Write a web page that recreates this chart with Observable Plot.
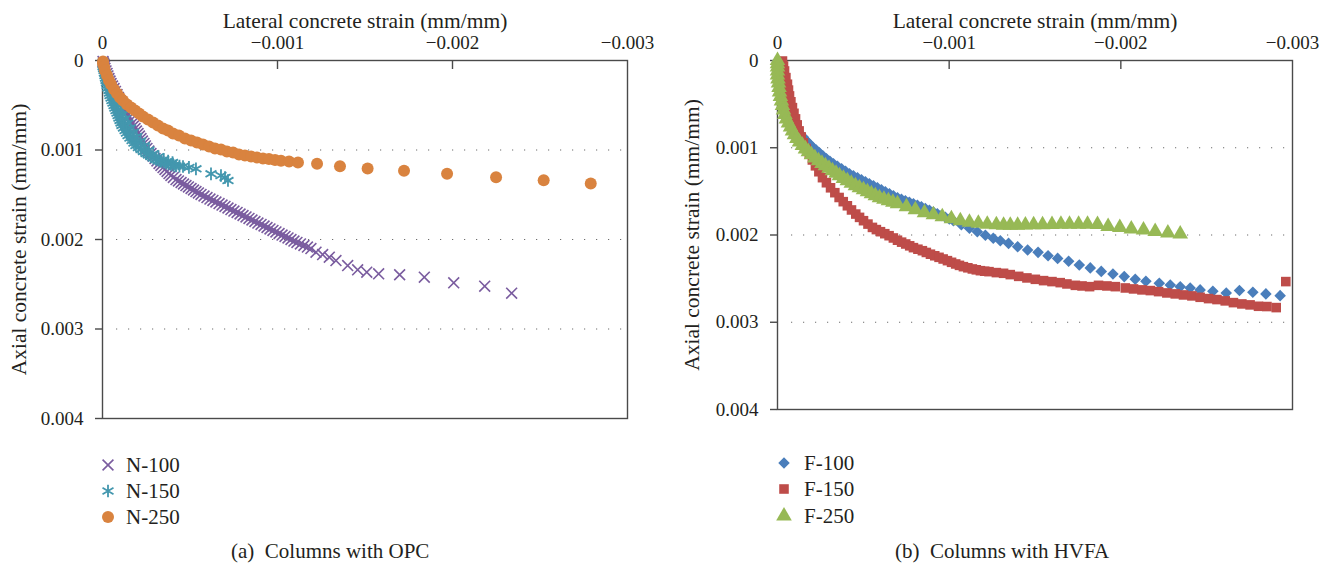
<!DOCTYPE html>
<html>
<head>
<meta charset="utf-8">
<script src="https://cdn.jsdelivr.net/npm/d3@7"></script>
<script src="https://cdn.jsdelivr.net/npm/@observablehq/plot@0.6"></script>
<style>
  html, body { margin: 0; padding: 0; background: #fff; }
  #wrap { position: relative; width: 1342px; height: 569px; font-family: 'Liberation Serif', 'Times New Roman', serif; color: #231f20; }
  .panel { position: absolute; top: 0; width: 671px; height: 569px; }
  .panel svg.plot { position: absolute; left: 0; top: 0; }
  .legend { position: absolute; left: 0; top: 0; font-size: 21px; }
  .row { position: absolute; height: 26px; white-space: nowrap; }
  .row svg { position: absolute; left: 0; top: 3px; width: 20px; height: 20px; overflow: visible; }
  .row span { position: absolute; top: 0; line-height: 26px; }
  .caption { position: absolute; top: 538px; text-align: left; font-size: 21px; white-space: pre; line-height: 26px; }
</style>
</head>
<body>
<div id="wrap"></div>
<script>
// ---------- data (strain values in microstrain; lateral negative, axial positive) ----------
const xTitle = "Lateral concrete strain (mm/mm)";
const yTitle = "Axial concrete strain (mm/mm)";
const xTicks = [0, -0.001, -0.002, -0.003];
const yTicks = [0, 0.001, 0.002, 0.003, 0.004];
const captions = ["(a)  Columns with OPC", "(b)  Columns with HVFA"];
const namesOPC = ["N-100", "N-150", "N-250"];
const namesHVFA = ["F-100", "F-150", "F-250"];

const n100 = [[-3,11],[-6,28],[-9,45],[-11,67],[-14,89],[-20,117],[-26,145],[-31,173],[-37,201],[-43,229],[-49,257],[-57,285],[-66,313],[-74,346],[-83,380],[-91,413],[-100,447],[-108,480],[-117,514],[-125,547],[-134,581],[-142,609],[-151,637],[-160,670],[-169,704],[-177,732],[-186,760],[-194,788],[-203,816],[-211,844],[-220,872],[-228,900],[-237,927],[-245,955],[-254,983],[-265,1011],[-277,1039],[-288,1067],[-300,1095],[-311,1123],[-323,1151],[-334,1173],[-346,1196],[-357,1218],[-369,1240],[-380,1263],[-391,1285],[-405,1307],[-420,1330],[-434,1346],[-449,1363],[-463,1380],[-477,1397],[-491,1413],[-506,1430],[-520,1447],[-534,1464],[-548,1480],[-563,1497],[-580,1514],[-597,1531],[-614,1548],[-631,1564],[-648,1581],[-666,1598],[-683,1615],[-700,1631],[-717,1648],[-734,1665],[-751,1682],[-769,1698],[-786,1715],[-803,1732],[-820,1748],[-837,1765],[-854,1782],[-871,1799],[-888,1816],[-906,1832],[-923,1849],[-940,1866],[-957,1882],[-974,1899],[-991,1916],[-1009,1933],[-1026,1950],[-1043,1966],[-1060,1983],[-1077,2000],[-1094,2017],[-1111,2033],[-1131,2050],[-1151,2067],[-1171,2084],[-1191,2101],[-1220,2142],[-1258,2168],[-1296,2198],[-1334,2235],[-1401,2291],[-1458,2339],[-1510,2365],[-1578,2383],[-1698,2394],[-1839,2421],[-2007,2484],[-2184,2522],[-2338,2600]];

const n150 = [[-3,22],[-3,45],[-3,67],[-6,90],[-9,112],[-11,140],[-14,168],[-17,196],[-20,223],[-23,251],[-26,279],[-31,307],[-37,335],[-40,363],[-43,391],[-49,419],[-54,447],[-60,475],[-66,503],[-71,531],[-77,559],[-83,587],[-89,615],[-94,643],[-100,670],[-106,698],[-111,726],[-120,754],[-129,782],[-137,810],[-146,838],[-157,866],[-169,894],[-180,922],[-191,950],[-205,972],[-220,994],[-234,1017],[-249,1039],[-263,1056],[-277,1073],[-291,1090],[-306,1106],[-320,1117],[-334,1128],[-349,1137],[-363,1145],[-377,1154],[-391,1162],[-406,1171],[-420,1179],[-440,1181],[-460,1184],[-494,1195],[-534,1210],[-620,1266],[-677,1285],[-700,1307],[-717,1341]];
// second, outer band of N-150 readings visible in the dense region
const n150b = [[-20,150],[-30,200],[-40,250],[-50,300],[-60,350],[-70,400],[-80,450],[-92,500],[-105,550],[-117,600],[-130,650],[-145,700],[-160,750],[-177,800],[-195,850],[-217,900],[-240,950],[-265,1000],[-290,1040],[-320,1075],[-350,1105],[-375,1125],[-400,1140]];

const n250 = [[-3,11],[-3,34],[-9,67],[-14,112],[-26,168],[-37,223],[-49,268],[-66,324],[-83,369],[-100,413],[-117,447],[-140,492],[-163,525],[-186,559],[-209,592],[-231,626],[-260,659],[-289,693],[-317,726],[-346,760],[-374,782],[-403,816],[-437,838],[-471,872],[-506,894],[-540,916],[-574,939],[-609,961],[-643,983],[-677,994],[-711,1017],[-746,1028],[-780,1050],[-814,1061],[-849,1073],[-883,1084],[-917,1095],[-951,1101],[-986,1112],[-1020,1121],[-1066,1128],[-1117,1140],[-1226,1154],[-1357,1181],[-1515,1207],[-1723,1232],[-1969,1266],[-2249,1304],[-2521,1337],[-2790,1374]];

const f100 = [[0,6],[0,40],[0,74],[-3,120],[-6,166],[-9,212],[-12,257],[-17,309],[-23,360],[-29,412],[-35,463],[-43,515],[-52,566],[-63,618],[-76,669],[-90,715],[-105,761],[-119,801],[-134,841],[-151,881],[-169,921],[-186,956],[-204,990],[-224,1024],[-244,1058],[-264,1093],[-285,1127],[-305,1156],[-326,1184],[-349,1213],[-373,1241],[-396,1270],[-419,1299],[-442,1322],[-466,1344],[-489,1367],[-512,1390],[-535,1413],[-559,1436],[-582,1459],[-605,1482],[-628,1505],[-652,1528],[-675,1551],[-699,1573],[-722,1591],[-745,1608],[-768,1625],[-792,1642],[-815,1659],[-838,1676],[-861,1696],[-885,1716],[-908,1736],[-931,1756],[-954,1776],[-978,1796],[-1001,1817],[-1025,1837],[-1071,1882],[-1118,1922],[-1164,1962],[-1211,2002],[-1257,2037],[-1298,2065],[-1346,2096],[-1399,2134],[-1457,2172],[-1518,2199],[-1576,2237],[-1632,2268],[-1696,2302],[-1758,2343],[-1822,2377],[-1886,2417],[-1954,2446],[-2020,2477],[-2084,2508],[-2146,2531],[-2224,2554],[-2288,2572],[-2346,2592],[-2404,2607],[-2462,2629],[-2536,2645],[-2614,2664],[-2691,2637],[-2769,2657],[-2845,2675],[-2928,2695]];

const f150 = [[-29,6],[-35,63],[-41,120],[-49,196],[-58,272],[-64,339],[-70,406],[-78,473],[-87,540],[-96,605],[-105,669],[-115,738],[-126,807],[-138,876],[-151,944],[-167,1009],[-185,1073],[-203,1140],[-221,1207],[-241,1275],[-262,1343],[-285,1401],[-309,1459],[-334,1515],[-359,1570],[-383,1618],[-407,1665],[-431,1713],[-456,1760],[-478,1798],[-501,1836],[-527,1875],[-553,1913],[-576,1938],[-600,1962],[-625,1985],[-650,2008],[-675,2034],[-699,2060],[-723,2082],[-747,2103],[-770,2124],[-792,2145],[-818,2163],[-844,2180],[-867,2200],[-891,2220],[-916,2238],[-941,2256],[-965,2275],[-990,2294],[-1014,2313],[-1038,2332],[-1060,2348],[-1083,2363],[-1109,2376],[-1135,2389],[-1158,2399],[-1182,2409],[-1207,2415],[-1232,2420],[-1275,2431],[-1317,2439],[-1356,2454],[-1405,2474],[-1453,2492],[-1502,2508],[-1550,2523],[-1599,2534],[-1647,2546],[-1686,2561],[-1735,2577],[-1774,2584],[-1818,2592],[-1870,2577],[-1919,2584],[-1968,2592],[-2026,2607],[-2074,2618],[-2123,2629],[-2172,2637],[-2220,2649],[-2268,2664],[-2317,2675],[-2365,2687],[-2414,2698],[-2462,2714],[-2511,2729],[-2560,2740],[-2608,2755],[-2656,2775],[-2705,2790],[-2753,2801],[-2802,2817],[-2851,2820],[-2905,2832],[-2961,2534]];

const f250 = [[0,0],[0,37],[0,74],[0,120],[0,166],[-3,212],[-6,257],[-9,309],[-12,360],[-17,412],[-23,463],[-29,515],[-35,566],[-43,618],[-52,669],[-64,715],[-76,761],[-87,807],[-99,852],[-113,893],[-128,933],[-145,973],[-163,1013],[-180,1047],[-198,1081],[-218,1116],[-239,1150],[-259,1179],[-279,1207],[-300,1236],[-320,1264],[-341,1293],[-361,1322],[-384,1351],[-407,1379],[-430,1408],[-454,1436],[-477,1459],[-501,1482],[-524,1505],[-547,1528],[-570,1551],[-594,1573],[-620,1591],[-646,1608],[-672,1625],[-699,1642],[-751,1676],[-803,1711],[-856,1745],[-908,1768],[-960,1791],[-1013,1814],[-1065,1836],[-1118,1854],[-1170,1865],[-1222,1876],[-1275,1882],[-1317,1888],[-1356,1888],[-1399,1888],[-1444,1886],[-1492,1882],[-1544,1882],[-1599,1879],[-1651,1876],[-1701,1876],[-1754,1876],[-1806,1876],[-1864,1879],[-1926,1902],[-1994,1913],[-2061,1931],[-2132,1943],[-2200,1959],[-2274,1977],[-2346,1989]];

// ---------- styles ----------
const FONT = "'Liberation Serif', 'Times New Roman', serif";
const toRows = (arr) => arr.map(([lat, ax]) => ({lat: lat * 1e-6, ax: ax * 1e-6}));
const fmt = (d) => d === 0 ? "0" : d3.format(".3f")(d);

const opcSeries = [
  {name: namesOPC[0], data: [n100], symbol: "times", r: 5.0, stroke: "#7a5c9f", strokeWidth: 1.6},
  {name: namesOPC[1], data: [n150b, n150], symbol: "asterisk", r: 6.0, stroke: "#4397ae", strokeWidth: 1.8},
  {name: namesOPC[2], data: [n250], symbol: "circle", r: 6.0, fill: "#d9833f"}
];
const hvfaSeries = [
  {name: namesHVFA[0], data: [f100], symbol: "diamond2", r: 5.2, fill: "#4a7ebb"},
  {name: namesHVFA[1], data: [f150], symbol: "square", r: 5.4, fill: "#be4c49"},
  {name: namesHVFA[2], data: [f250], symbol: "triangle", r: 5.8, fill: "#97b955"}
];

function makePlot(series, m, titleDx) {
  const innerH = 432 - m.top - m.bottom;
  return Plot.plot({
    width: 671, height: 432,
    marginTop: m.top, marginBottom: m.bottom, marginLeft: m.left, marginRight: m.right,
    style: {fontFamily: FONT, fontSize: "19px", color: "#231f20", background: "transparent", overflow: "visible"},
    x: {domain: [0, -0.003]},
    y: {domain: [0, 0.004], reverse: true},
    marks: [
      Plot.ruleY(yTicks.slice(1, 4), {stroke: "#6d6d6d", strokeWidth: 1.2, strokeDasharray: "1.2,10.8", insetLeft: 14, insetRight: 4}),
      Plot.frame({stroke: "#4a4a4a", strokeWidth: 1.4}),
      Plot.tickX(xTicks.slice(1, 3), {x: (d) => d, stroke: "#4a4a4a", strokeWidth: 1.4, insetBottom: innerH - 9}),
      Plot.axisX(xTicks, {anchor: "top", tickSize: 0, tickPadding: 12, tickFormat: fmt, label: null, fontSize: 19}),
      Plot.axisY(yTicks, {anchor: "left", tickSize: 7, tickPadding: 12, tickFormat: fmt, label: null, stroke: "#4a4a4a", strokeWidth: 1.4, fontSize: 19}),
      Plot.text([xTitle], {frameAnchor: "top", dy: -48, fontSize: 21.5}),
      Plot.text([yTitle], {frameAnchor: "left", textAnchor: "middle", rotate: -90, dx: titleDx, fontSize: 21.5}),
      ...series.flatMap((s) => s.data.map((d) => Plot.dot(toRows(d), {
        x: "lat", y: "ax", symbol: s.symbol, r: s.r,
        ...(s.fill ? {fill: s.fill} : {stroke: s.stroke, strokeWidth: s.strokeWidth})
      })))
    ]
  });
}

function legendHTML(series, left, textLeft, tops) {
  const div = document.createElement("div");
  div.className = "legend";
  const typeMap = {times: d3.symbolTimes, asterisk: d3.symbolAsterisk, circle: d3.symbolCircle,
    diamond2: d3.symbolDiamond2, square: d3.symbolSquare, triangle: d3.symbolTriangle};
  series.forEach((s, i) => {
    const row = document.createElement("div");
    row.className = "row";
    row.style.left = (left - 10) + "px";
    row.style.top = (tops[i] - 13) + "px";
    const path = d3.symbol(typeMap[s.symbol], Math.PI * s.r * s.r)();
    const svg = d3.create("svg").attr("viewBox", "-10 -10 20 20");
    svg.append("path").attr("d", path)
      .attr("fill", s.fill || "none")
      .attr("stroke", s.fill ? "none" : s.stroke)
      .attr("stroke-width", s.strokeWidth || 0);
    row.appendChild(svg.node());
    const sp = document.createElement("span");
    sp.style.left = (textLeft - left + 10) + "px";
    sp.textContent = s.name;
    row.appendChild(sp);
    div.appendChild(row);
  });
  return div;
}

const wrap = document.getElementById("wrap");
const configs = [
  {series: opcSeries, m: {top: 60, bottom: 14, left: 102, right: 44}, titleDx: -83,
   legX: 108, legTextX: 126, legTops: [465, 491, 517], cap: captions[0], capLeft: 231},
  {series: hvfaSeries, m: {top: 60, bottom: 23, left: 106, right: 50}, titleDx: -85,
   legX: 113, legTextX: 133, legTops: [463, 489, 516], cap: captions[1], capLeft: 224}
];
configs.forEach((c, i) => {
  const p = document.createElement("div");
  p.className = "panel";
  p.style.left = (i * 671) + "px";
  const plot = makePlot(c.series, c.m, c.titleDx);
  plot.classList.add("plot");
  p.appendChild(plot);
  p.appendChild(legendHTML(c.series, c.legX, c.legTextX, c.legTops));
  const cap = document.createElement("div");
  cap.className = "caption";
  cap.style.left = c.capLeft + "px";
  cap.textContent = c.cap;
  p.appendChild(cap);
  wrap.appendChild(p);
});
</script>
</body>
</html>
